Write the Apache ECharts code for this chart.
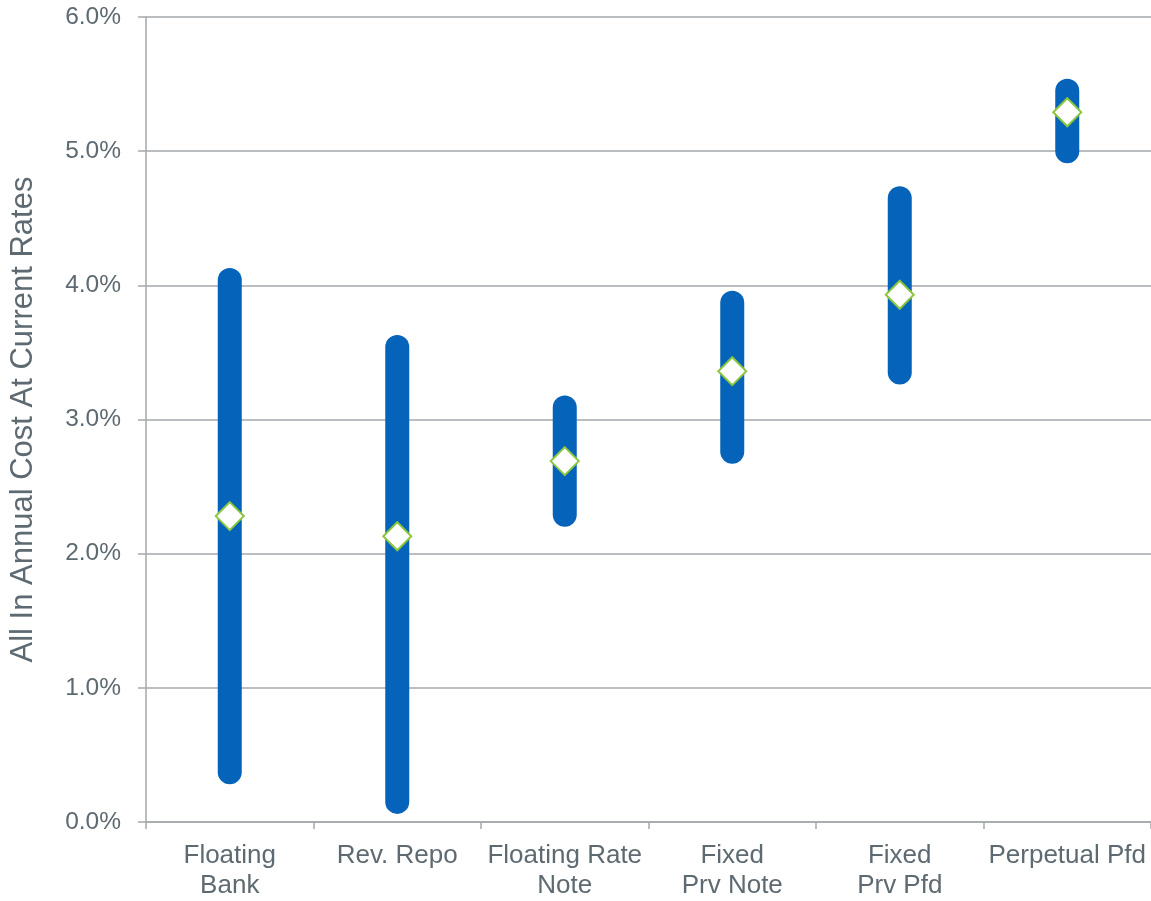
<!DOCTYPE html>
<html>
<head>
<meta charset="utf-8">
<title>All In Annual Cost At Current Rates</title>
<script src="https://cdn.jsdelivr.net/npm/echarts@6/dist/echarts.min.js"></script>
<style>
  html, body { margin: 0; padding: 0; background: #ffffff; }
  #chart { width: 1151px; height: 901px; }
</style>
</head>
<body>
<div id="chart"></div>
<script>
// Financing instruments and their cost ranges (in percent)
const categories = ['Floating\nBank', 'Rev. Repo', 'Floating Rate\nNote', 'Fixed\nPrv Note', 'Fixed\nPrv Pfd', 'Perpetual Pfd'];
const lowCost = [0.37, 0.15, 2.29, 2.76, 3.35, 5.00];
const highCost = [4.04, 3.54, 3.09, 3.87, 4.65, 5.45];
const currentCost = [2.28, 2.13, 2.69, 3.36, 3.93, 5.29];
const yTicks = [0, 1, 2, 3, 4, 5, 6];

const textColor = '#5E6A71';
const gridColor = '#A5A8AB';
const font = '"Liberation Sans", Arial, sans-serif';

const rangeData = categories.map((c, i) => [i, lowCost[i], highCost[i]]);
const pointData = categories.map((c, i) => [i, currentCost[i]]);

const chart = echarts.init(document.getElementById('chart'), null, { renderer: 'canvas' });

chart.setOption({
  animation: false,
  backgroundColor: '#ffffff',
  textStyle: { fontFamily: font },
  grid: { left: 145, right: 0, top: 17, bottom: 75, containLabel: false },
  xAxis: {
    type: 'category',
    data: categories,
    boundaryGap: true,
    axisLine: { show: true, lineStyle: { color: gridColor, width: 1.5 } },
    axisTick: { show: true, length: 7, alignWithLabel: false, lineStyle: { color: gridColor, width: 1.5 } },
    axisLabel: {
      color: textColor,
      fontSize: 26,
      fontFamily: font,
      lineHeight: 30,
      margin: 19,
      interval: 0
    },
    splitLine: { show: false }
  },
  yAxis: {
    type: 'value',
    min: yTicks[0],
    max: yTicks[yTicks.length - 1],
    interval: 1,
    name: 'All In Annual Cost At Current Rates',
    nameLocation: 'middle',
    nameGap: 107,
    nameRotate: 90,
    nameTextStyle: { color: textColor, fontSize: 31, fontFamily: font },
    axisLine: { show: true, lineStyle: { color: gridColor, width: 1.5 } },
    axisTick: { show: true, length: 8, inside: false, lineStyle: { color: gridColor, width: 1.5 } },
    axisLabel: {
      color: textColor,
      fontSize: 24.5,
      fontFamily: font,
      margin: 25,
      formatter: v => v.toFixed(1) + '%'
    },
    splitLine: { show: true, lineStyle: { color: gridColor, width: 1.5 } }
  },
  series: [
    {
      name: 'Range',
      type: 'custom',
      data: rangeData,
      encode: { x: 0, y: [1, 2] },
      renderItem: function (params, api) {
        const lo = api.coord([api.value(0), api.value(1)]);
        const hi = api.coord([api.value(0), api.value(2)]);
        return {
          type: 'line',
          shape: { x1: lo[0], y1: lo[1], x2: hi[0], y2: hi[1] },
          style: { stroke: '#0563B9', lineWidth: 24, lineCap: 'round' }
        };
      },
      z: 2
    },
    {
      name: 'Current',
      type: 'scatter',
      data: pointData,
      symbol: 'diamond',
      symbolSize: 28,
      itemStyle: { color: '#ffffff', borderColor: '#8CC63F', borderWidth: 2, opacity: 1 },
      z: 3
    }
  ]
});
</script>
</body>
</html>
